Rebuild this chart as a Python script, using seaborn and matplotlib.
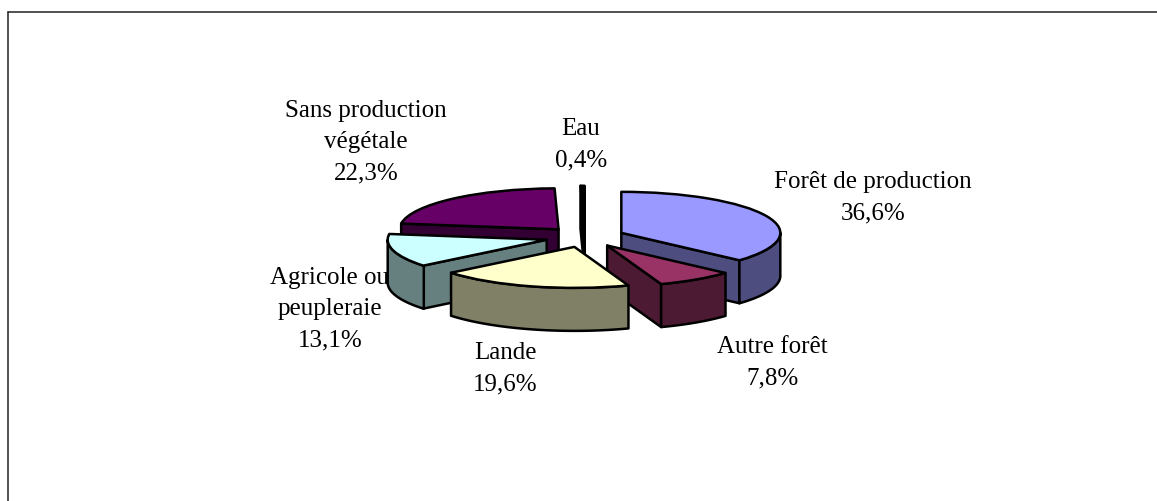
import matplotlib
matplotlib.use('Agg')
import matplotlib.pyplot as plt
from matplotlib.lines import Line2D
import numpy as np
import seaborn as sns

labels = ['Forêt de production', 'Autre forêt', 'Lande', 'Agricole ou\npeupleraie',
          'Sans production\nvégétale', 'Eau']
values = [36.6, 7.8, 19.6, 13.1, 22.3, 0.4]
value_text = ['36,6%', '7,8%', '19,6%', '13,1%', '22,3%', '0,4%']
top_colors = ['#9999FF', '#993366', '#FFFFCC', '#CCFFFF', '#660066', '#000000']

# label centres in pixels, reference image
label_pos = [(873, 198), (772, 363), (505, 369), (330, 309), (366, 142), (581, 145)]
# back to front
draw_order = [4, 5, 0, 1, 3, 2]

W, H = 1157, 501
CX, CY = 585, 237
RX, RY = 159, 41
DEPTH = 43 / RY
LW = 1.8

sns.set_theme(style='white')
palette = sns.color_palette(top_colors)
side_colors = [tuple(c * 0.5 for c in col) for col in palette]

fig = plt.figure(figsize=(W / 100, H / 100), dpi=100, facecolor='white')
ax = fig.add_axes([0, 0, 1, 1])

wedges, _ = ax.pie(values, explode=[0.25] * len(values), startangle=90, counterclock=False,
                   colors=palette, wedgeprops=dict(edgecolor='black', linewidth=LW, joinstyle='round'))

# the pie stays in unit radius, squashing the axes gives the ellipse
ax.set_aspect('auto')
ax.set_xlim((0 - CX) / RX, (W - CX) / RX)
ax.set_ylim((CY - H) / RY, CY / RY)


def draw_side(xs, ys, color, z):
    xs = np.asarray(xs)
    ys = np.asarray(ys)
    px = np.concatenate([xs, xs[::-1]])
    py = np.concatenate([ys, ys[::-1] - DEPTH])
    ax.fill(px, py, facecolor=color, edgecolor='black', linewidth=LW, zorder=z, joinstyle='round')


for z, i in enumerate(draw_order):
    w = wedges[i]
    z = z * 4 + 2
    cx, cy = w.center
    t1, t2 = w.theta1, w.theta2

    # cut faces that look towards the viewer
    if -np.cos(np.radians(t1)) < 0:
        a = np.radians(t1)
        draw_side([cx, cx + np.cos(a)], [cy, cy + np.sin(a)], side_colors[i], z)
    if np.cos(np.radians(t2)) < 0:
        a = np.radians(t2)
        draw_side([cx, cx + np.cos(a)], [cy, cy + np.sin(a)], side_colors[i], z)

    # outer wall, lower half of the ellipse only
    th = np.radians(np.arange(t1, t2 + 0.25, 0.25))
    th = th[np.sin(th) <= 0]
    if len(th) > 1:
        draw_side(cx + np.cos(th), cy + np.sin(th), side_colors[i], z + 1)

    w.set_zorder(z + 2)

for lab, val, (x, y) in zip(labels, value_text, label_pos):
    fig.text(x / W, 1 - y / H, f'{lab}\n{val}', ha='center', va='center', color='black',
             family='Liberation Serif', fontsize=18, linespacing=1.55)

# only the top and left edges of the frame show in the picture
fig.add_artist(Line2D([8 / W, 1], [1 - 12 / H, 1 - 12 / H], color='#222222', lw=1.1))
fig.add_artist(Line2D([8 / W, 8 / W], [1 - 12 / H, 0], color='#222222', lw=1.1))

fig.savefig('out.png', dpi=100, facecolor='white')
